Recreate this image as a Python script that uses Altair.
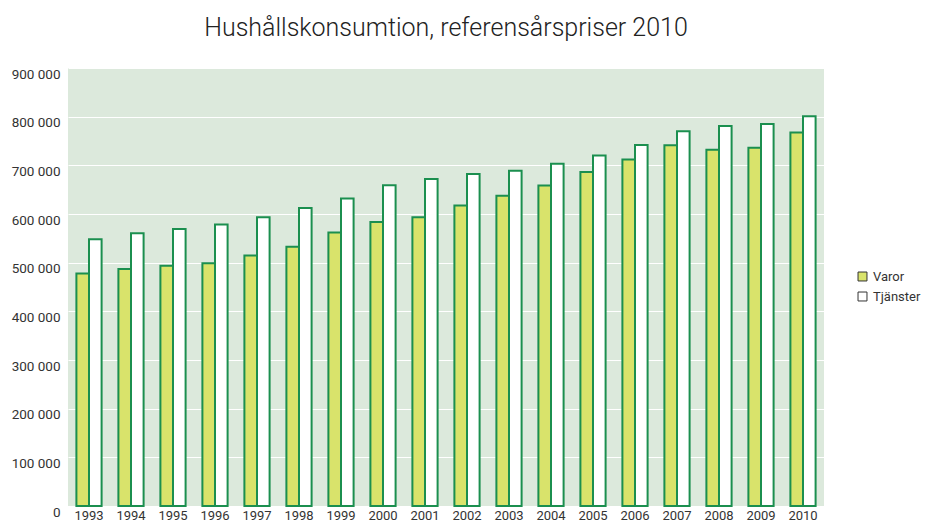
import altair as alt
import pandas as pd

years = [str(y) for y in range(1993, 2011)]
varor = [477600, 487000, 493900, 498600, 514900, 532700, 561800, 583700, 593100,
         617600, 637300, 658400, 686300, 712200, 741400, 731800, 735900, 767300]
tjanster = [548000, 560400, 569400, 578200, 593100, 612200, 631900, 659200, 672000,
            682200, 689000, 703300, 720400, 742000, 770000, 780800, 784900, 800600]
series = ["Varor", "Tjänster"]
y_ticks = [0, 100000, 200000, 300000, 400000, 500000, 600000, 700000, 800000, 900000]

rows = []
for i, y in enumerate(years):
    rows.append({"year": y, "series": "Varor", "value": varor[i]})
    rows.append({"year": y, "series": "Tjänster", "value": tjanster[i]})
df = pd.DataFrame(rows)

font = "Roboto"

chart = alt.Chart(df).mark_bar(stroke="#1b8f4f", strokeWidth=2).encode(
    x=alt.X("year:O", title=None,
            scale=alt.Scale(paddingInner=0.4, paddingOuter=0.2),
            axis=alt.Axis(labelAngle=0, ticks=False, domain=False, grid=False,
                          labelPadding=3, labelFontSize=13, labelColor="#333",
                          labelFont=font)),
    xOffset=alt.XOffset("series:N", sort=series, scale=alt.Scale(paddingInner=0, paddingOuter=0)),
    y=alt.Y("value:Q", title=None,
            scale=alt.Scale(domain=[0, 900000], nice=False),
            axis=alt.Axis(values=y_ticks, ticks=False, domain=False, grid=True,
                          gridColor="white", gridWidth=1, labelPadding=8,
                          labelOffset=6, labelFontSize=13.5, labelColor="#333",
                          labelFont=font,
                          labelExpr="datum.value == 0 ? '0' : format(datum.value / 1000, 'd') + ' 000'")),
    fill=alt.Fill("series:N", sort=series,
                  scale=alt.Scale(domain=series, range=["#d9e36b", "#ffffff"]),
                  legend=alt.Legend(title=None, orient="none", legendX=788, legendY=202,
                                    symbolType="square", symbolSize=80,
                                    symbolStrokeColor="#333", symbolStrokeWidth=1,
                                    labelFontSize=13, labelColor="#333", labelFont=font,
                                    rowPadding=6)),
).properties(
    width=756,
    height=438,
    title=alt.TitleParams("Hushållskonsumtion, referensårspriser 2010",
                          fontSize=25, font=font, fontWeight=300, color="#222",
                          anchor="middle", offset=26),
    autosize=alt.AutoSizeParams(type="none"),
    padding={"left": 60, "top": 60, "right": 98, "bottom": 17},
).configure_view(fill="#dce9dc", stroke=None)

chart.save("out.html", embed_options={"renderer": "svg", "actions": False})
